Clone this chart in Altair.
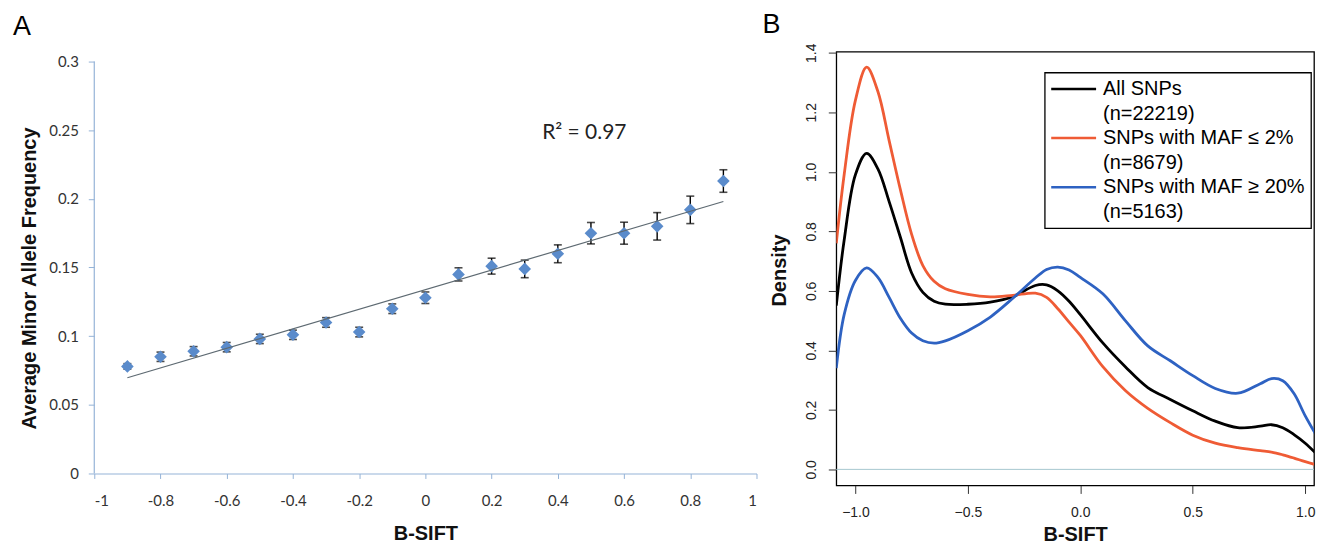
import altair as alt
import pandas as pd

# ---------------- Panel A data ----------------
bsift = [-0.9, -0.8, -0.7, -0.6, -0.5, -0.4, -0.3, -0.2, -0.1, 0.0,
         0.1, 0.2, 0.3, 0.4, 0.5, 0.6, 0.7, 0.8, 0.9]
avg_maf = [0.078, 0.085, 0.089, 0.092, 0.098, 0.101, 0.110, 0.103, 0.120, 0.128,
           0.145, 0.151, 0.149, 0.160, 0.175, 0.175, 0.180, 0.192, 0.213]
maf_err = [0.002, 0.0034, 0.0034, 0.0034, 0.0034, 0.0034, 0.0035, 0.0035, 0.0035, 0.0042,
           0.0048, 0.0058, 0.0064, 0.0065, 0.0078, 0.008, 0.010, 0.010, 0.0082]
x_ticks_a = [-1, -0.8, -0.6, -0.4, -0.2, 0, 0.2, 0.4, 0.6, 0.8, 1]
y_ticks_a = [0, 0.05, 0.1, 0.15, 0.2, 0.25, 0.3]
r2_text = ["R\u00b2 = 0.97"]

# ---------------- Panel B data ----------------
dens_x = [-1.085, -1.05, -1.0, -0.95, -0.9, -0.85, -0.8, -0.75, -0.7, -0.65, -0.6,
          -0.5, -0.4, -0.3, -0.2, -0.15, -0.1, -0.05, 0.0, 0.1, 0.2, 0.3, 0.4,
          0.5, 0.6, 0.7, 0.8, 0.85, 0.9, 0.95, 1.0, 1.07]
dens_all = [0.55, 0.77, 0.99, 1.062, 1.01, 0.90, 0.78, 0.66, 0.595, 0.565, 0.555,
            0.555, 0.562, 0.58, 0.618, 0.62, 0.60, 0.565, 0.52, 0.425, 0.345, 0.275, 0.235,
            0.197, 0.162, 0.14, 0.145, 0.15, 0.14, 0.117, 0.088, 0.037]
dens_low = [0.76, 0.99, 1.24, 1.352, 1.27, 1.105, 0.94, 0.79, 0.685, 0.632, 0.607,
            0.588, 0.58, 0.585, 0.592, 0.578, 0.54, 0.495, 0.45, 0.345, 0.265, 0.205, 0.157,
            0.115, 0.088, 0.073, 0.063, 0.058, 0.049, 0.038, 0.026, 0.011]
dens_high = [0.34, 0.52, 0.635, 0.677, 0.645, 0.578, 0.508, 0.458, 0.432, 0.424, 0.432,
             0.466, 0.512, 0.575, 0.643, 0.672, 0.68, 0.67, 0.645, 0.59, 0.50, 0.415, 0.365,
             0.315, 0.272, 0.256, 0.288, 0.305, 0.298, 0.255, 0.18, 0.088]
series_names = ["All SNPs", "SNPs with MAF \u2264 2%", "SNPs with MAF \u2265 20%"]
series_counts = ["(n=22219)", "(n=8679)", "(n=5163)"]
series_colors = ["#000000", "#EF5B35", "#2E62C2"]
x_ticks_b = [-1.0, -0.5, 0.0, 0.5, 1.0]
y_ticks_b = [0.0, 0.2, 0.4, 0.6, 0.8, 1.0, 1.2, 1.4]

# ---------------- Panel A ----------------
dfA = pd.DataFrame({
    "bsift": bsift,
    "maf": avg_maf,
    "lo": [m - e for m, e in zip(avg_maf, maf_err)],
    "hi": [m + e for m, e in zip(avg_maf, maf_err)],
})

AXIS_BLUE = "#95B3D7"
x_axis_a = alt.Axis(values=x_ticks_a, labelExpr="replace(format(datum.value, '~g'), '\u2212', '-')",
                    domainColor=AXIS_BLUE, domainWidth=1.2, tickColor=AXIS_BLUE, tickSize=5,
                    labelFont="Lato", labelFontSize=15, labelColor="#333333", labelPadding=15,
                    grid=False, title="B-SIFT", titleFont="Liberation Sans", titleFontSize=20,
                    titleFontWeight="bold", titleColor="#111111", titleY=50)
y_axis_a = alt.Axis(values=y_ticks_a, format="~g", domain=False, tickColor=AXIS_BLUE, tickSize=6,
                    labelFont="Lato", labelFontSize=15, labelColor="#333333", labelPadding=10,
                    grid=False, title="Average Minor Allele Frequency", titleFont="Liberation Sans",
                    titleFontSize=20, titleFontWeight="bold", titleColor="#111111",
                    titleX=-55, titleY=227, titleAngle=270, titleBaseline="bottom")
x_scale_a = alt.Scale(domain=[-1, 1], nice=False, zero=False)
y_scale_a = alt.Scale(domain=[0, 0.30726], nice=False, zero=False)

def xa(field):
    return alt.X(f"{field}:Q", scale=x_scale_a, axis=x_axis_a)

def ya(field):
    return alt.Y(f"{field}:Q", scale=y_scale_a, axis=y_axis_a)

yaxis_line = alt.Chart(pd.DataFrame({"x": [-1], "y0": [0], "y1": [0.3]})).mark_rule(
    color=AXIS_BLUE, strokeWidth=1.2).encode(x=xa("x"), y=ya("y0"), y2="y1:Q")

base = alt.Chart(dfA)
err_stem = base.mark_rule(color="black", strokeWidth=1.4).encode(x=xa("bsift"), y=ya("lo"), y2="hi:Q")
cap_lo = base.mark_tick(orient="horizontal", size=8, thickness=1.6, color="black").encode(
    x=xa("bsift"), y=ya("lo"))
cap_hi = base.mark_tick(orient="horizontal", size=8, thickness=1.6, color="black").encode(
    x=xa("bsift"), y=ya("hi"))
points = base.mark_point(shape="diamond", filled=True, size=160, color="#5A8BCB", opacity=1).encode(
    x=xa("bsift"), y=ya("maf"))
trend = base.transform_regression("bsift", "maf").mark_line(color="#5E6A72", strokeWidth=1.2).encode(
    x=xa("bsift"), y=ya("maf"))
r2 = alt.Chart(pd.DataFrame({"x": [0.48], "y": [0.248], "t": r2_text})).mark_text(
    font="Lato", fontSize=21, color="#222222", align="center", baseline="middle").encode(
    x=xa("x"), y=ya("y"), text="t:N")
label_a = alt.Chart(pd.DataFrame({"t": ["A"]})).mark_text(
    font="Liberation Sans", fontSize=27, color="black", align="center", baseline="middle").encode(
    x=alt.value(-72.5), y=alt.value(-25), text="t:N")

panelA = alt.layer(yaxis_line, err_stem, cap_lo, cap_hi, points, trend, r2, label_a).properties(
    width=664, height=423, view=alt.ViewBackground(stroke="transparent"))

# ---------------- Panel B ----------------
rows = []
for name, ys in zip(series_names, [dens_all, dens_low, dens_high]):
    for xv, yv in zip(dens_x, ys):
        rows.append({"bsift": xv, "density": yv, "series": name})
dfB = pd.DataFrame(rows)

legend_domain = []
legend_range = []
for name, cnt, col in zip(series_names, series_counts, series_colors):
    legend_domain += [name, cnt]
    legend_range += [col, "transparent"]

x_scale_b = alt.Scale(domain=[-1.085, 1.039], nice=False, zero=False)
y_scale_b = alt.Scale(domain=[-0.054, 1.404], nice=False, zero=False)
x_axis_b = alt.Axis(values=x_ticks_b, format=".1f", domain=False, tickColor="#333333", tickSize=8,
                    tickWidth=1, labelFont="Liberation Sans", labelFontSize=14, labelColor="#222222",
                    labelPadding=12, grid=False, title="B-SIFT", titleFont="Liberation Sans",
                    titleFontSize=20, titleFontWeight="bold", titleColor="#111111", titleY=39.5)
y_axis_b = alt.Axis(values=y_ticks_b, format=".1f", domain=False, tickColor="#333333", tickSize=8,
                    tickWidth=1, labelFont="Liberation Sans", labelFontSize=14, labelColor="#222222",
                    labelAngle=270, labelAlign="center", labelBaseline="bottom", labelPadding=9.5,
                    grid=False, title="Density", titleFont="Liberation Sans", titleFontSize=20,
                    titleFontWeight="bold", titleColor="#111111", titleX=-47, titleY=219,
                    titleAngle=270, titleBaseline="bottom")

zero_line = alt.Chart(pd.DataFrame({"y": [0.0]})).mark_rule(color="#A7C7CF", strokeWidth=1).encode(
    y=alt.Y("y:Q", scale=y_scale_b, axis=y_axis_b))

curves = alt.Chart(dfB).mark_line(interpolate="catmull-rom", strokeWidth=2.8, clip=True).encode(
    x=alt.X("bsift:Q", scale=x_scale_b, axis=x_axis_b),
    y=alt.Y("density:Q", scale=y_scale_b, axis=y_axis_b),
    color=alt.Color("series:N", scale=alt.Scale(domain=legend_domain, range=legend_range),
                    legend=alt.Legend(orient="none", legendX=953, legendY=21, title=None,
                                      strokeColor="black", fillColor="white", padding=6,
                                      symbolType="M-2.5,0H2.5", symbolSize=324,
                                      symbolStrokeWidth=2.5, symbolOffset=12.5, labelOffset=19,
                                      labelFont="Liberation Sans", labelFontSize=20,
                                      labelColor="black", labelLimit=400, rowPadding=3.6)),
    detail="series:N",
)
label_b = alt.Chart(pd.DataFrame({"t": ["B"]})).mark_text(
    font="Liberation Sans", fontSize=27, color="black", align="center", baseline="middle").encode(
    x=alt.value(-65), y=alt.value(-26.5), text="t:N")

panelB = alt.layer(zero_line, curves, label_b).properties(
    width=479, height=435, view=alt.ViewBackground(stroke="black", strokeWidth=1.3))

chart = alt.hconcat(panelA, panelB, spacing=80, bounds="flush").properties(
    padding={"left": 3.5, "top": 1, "right": 0, "bottom": 0}
).configure(background="white").configure_legend(strokeWidth=1.3)

chart.save("out.html", embed_options={"renderer": "svg", "actions": False})
